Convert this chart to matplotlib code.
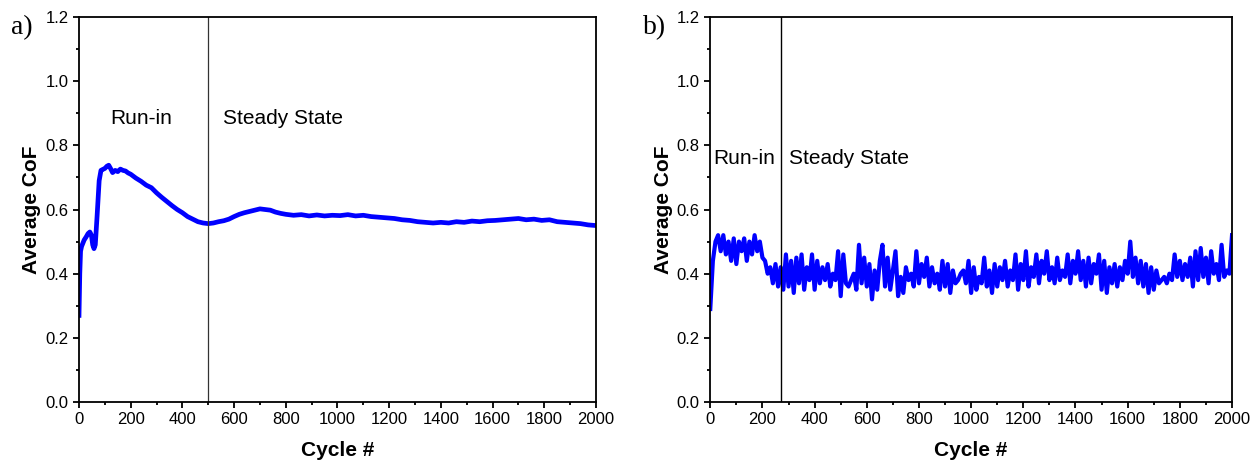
import numpy as np
import matplotlib
matplotlib.use("Agg")
import matplotlib.pyplot as plt
from matplotlib.ticker import MultipleLocator

plt.rcParams['font.family'] = ['Liberation Sans', 'DejaVu Sans']

# ---- Test a: average CoF per cycle ----
cycles_a = [0, 3, 6, 10, 15, 20, 28, 35, 42, 48, 53, 58, 63, 70, 78, 85, 92,
            100, 108, 115, 122, 130, 140, 150, 160, 170, 180, 190, 200,
            220, 240, 260, 280, 300, 320, 340, 360, 380, 400, 420, 440,
            460, 480, 500, 520, 540, 560, 580, 600, 620, 640, 660, 680,
            700, 720, 740, 760, 780, 800, 830, 860, 890, 920, 950, 980,
            1010, 1040, 1070, 1100, 1130, 1160, 1190, 1220, 1250, 1280,
            1310, 1340, 1370, 1400, 1430, 1460, 1490, 1520, 1550, 1580,
            1610, 1640, 1670, 1700, 1730, 1760, 1790, 1820, 1850, 1880,
            1910, 1940, 1970, 2000]
cof_a = [0.27, 0.40, 0.47, 0.485, 0.495, 0.505, 0.515, 0.525, 0.53, 0.52,
         0.49, 0.478, 0.49, 0.58, 0.69, 0.722, 0.725, 0.728, 0.735, 0.738,
         0.728, 0.715, 0.722, 0.718, 0.726, 0.722, 0.72, 0.714, 0.71,
         0.698, 0.688, 0.676, 0.668, 0.652, 0.638, 0.625, 0.612, 0.60,
         0.59, 0.578, 0.57, 0.562, 0.558, 0.556, 0.558, 0.562, 0.565,
         0.57, 0.578, 0.585, 0.59, 0.594, 0.598, 0.602, 0.60, 0.598,
         0.592, 0.588, 0.585, 0.582, 0.584, 0.58, 0.583, 0.58, 0.582,
         0.581, 0.584, 0.58, 0.582, 0.578, 0.576, 0.574, 0.572, 0.568,
         0.566, 0.562, 0.56, 0.558, 0.56, 0.558, 0.562, 0.56, 0.564,
         0.562, 0.565, 0.566, 0.568, 0.57, 0.572, 0.568, 0.57, 0.566,
         0.568, 0.562, 0.56, 0.558, 0.556, 0.552, 0.55]
runin_end_a = 500

# ---- Test b: average CoF per cycle (every 10 cycles) ----
cycles_b = list(range(0, 2001, 10))
cof_b = [0.29, 0.44, 0.50, 0.52, 0.47, 0.52, 0.46, 0.50, 0.44, 0.51,
         0.43, 0.50, 0.47, 0.51, 0.44, 0.50, 0.46, 0.52, 0.47, 0.50,
         0.45, 0.44, 0.40, 0.42, 0.37, 0.43, 0.36, 0.42, 0.35, 0.46,
         0.36, 0.44, 0.34, 0.45, 0.37, 0.46, 0.35, 0.42, 0.38, 0.46,
         0.35, 0.44, 0.37, 0.42, 0.38, 0.43, 0.36, 0.40, 0.38, 0.47,
         0.33, 0.46, 0.37, 0.36, 0.38, 0.40, 0.35, 0.49, 0.37, 0.45,
         0.36, 0.43, 0.32, 0.41, 0.35, 0.44, 0.49, 0.36, 0.45, 0.35,
         0.41, 0.47, 0.33, 0.39, 0.34, 0.42, 0.38, 0.40, 0.36, 0.47,
         0.37, 0.43, 0.39, 0.45, 0.36, 0.42, 0.37, 0.40, 0.35, 0.44,
         0.36, 0.43, 0.34, 0.41, 0.37, 0.38, 0.40, 0.41, 0.37, 0.44,
         0.34, 0.42, 0.35, 0.39, 0.37, 0.45, 0.36, 0.41, 0.34, 0.43,
         0.36, 0.42, 0.38, 0.44, 0.36, 0.41, 0.38, 0.46, 0.35, 0.43,
         0.38, 0.47, 0.36, 0.42, 0.39, 0.46, 0.37, 0.44, 0.40, 0.47,
         0.38, 0.42, 0.37, 0.45, 0.38, 0.41, 0.39, 0.46, 0.37, 0.44,
         0.40, 0.47, 0.38, 0.44, 0.36, 0.45, 0.37, 0.43, 0.40, 0.46,
         0.35, 0.44, 0.34, 0.42, 0.37, 0.43, 0.36, 0.42, 0.38, 0.44,
         0.40, 0.50, 0.39, 0.45, 0.37, 0.44, 0.36, 0.43, 0.34, 0.42,
         0.35, 0.41, 0.37, 0.38, 0.39, 0.37, 0.40, 0.38, 0.46, 0.39,
         0.44, 0.38, 0.43, 0.39, 0.45, 0.36, 0.47, 0.38, 0.48, 0.39,
         0.45, 0.37, 0.47, 0.40, 0.43, 0.38, 0.49, 0.39, 0.41, 0.40,
         0.52]
runin_end_b = 272

x_ticks = [0, 200, 400, 600, 800, 1000, 1200, 1400, 1600, 1800, 2000]
y_ticks = [0.0, 0.2, 0.4, 0.6, 0.8, 1.0, 1.2]

fig = plt.figure(figsize=(12.6, 4.66), dpi=100)
ax_a = fig.add_axes([0.0627, 0.1373, 0.4103, 0.8262])
ax_b = fig.add_axes([0.5637, 0.1373, 0.4141, 0.8262])


def style_axes(ax):
    ax.set_xlim(0, 2000)
    ax.set_ylim(0, 1.2)
    ax.set_xticks(x_ticks)
    ax.set_yticks(y_ticks)
    ax.set_yticklabels([f"{v:.1f}" for v in y_ticks])
    ax.xaxis.set_minor_locator(MultipleLocator(100))
    ax.yaxis.set_minor_locator(MultipleLocator(0.1))
    ax.tick_params(which='both', direction='out', top=False, right=False,
                   width=1.3, labelsize=12, colors='black')
    ax.tick_params(which='major', length=4.5, pad=3)
    ax.tick_params(which='minor', length=2.5)
    for s in ax.spines.values():
        s.set_linewidth(1.3)
    ax.set_xlabel('Cycle #', fontsize=15, fontweight='bold', labelpad=10)
    ax.set_ylabel('Average CoF', fontsize=15, fontweight='bold', labelpad=3)


ax_a.plot(cycles_a, cof_a, color='#0000ff', lw=3.4, solid_joinstyle='round')
ax_a.axvline(runin_end_a, color='#333333', lw=0.9)
ax_a.text(240, 0.885, 'Run-in', fontsize=15, ha='center', va='center')
ax_a.text(790, 0.885, 'Steady State', fontsize=15, ha='center', va='center')
style_axes(ax_a)

ax_b.plot(cycles_b, cof_b, color='#0000ff', lw=3.0, solid_joinstyle='round')
ax_b.axvline(runin_end_b, color='black', lw=1.0)
ax_b.text(131, 0.76, 'Run-in', fontsize=15, ha='center', va='center')
ax_b.text(530, 0.76, 'Steady State', fontsize=15, ha='center', va='center')
style_axes(ax_b)

fig.text(0.009, 0.94, 'a)', fontsize=20, family=['Liberation Serif', 'DejaVu Serif'],
         va='center', ha='left')
fig.text(0.510, 0.94, 'b)', fontsize=20, family=['Liberation Serif', 'DejaVu Serif'],
         va='center', ha='left')

fig.savefig('out.png', dpi=100)
